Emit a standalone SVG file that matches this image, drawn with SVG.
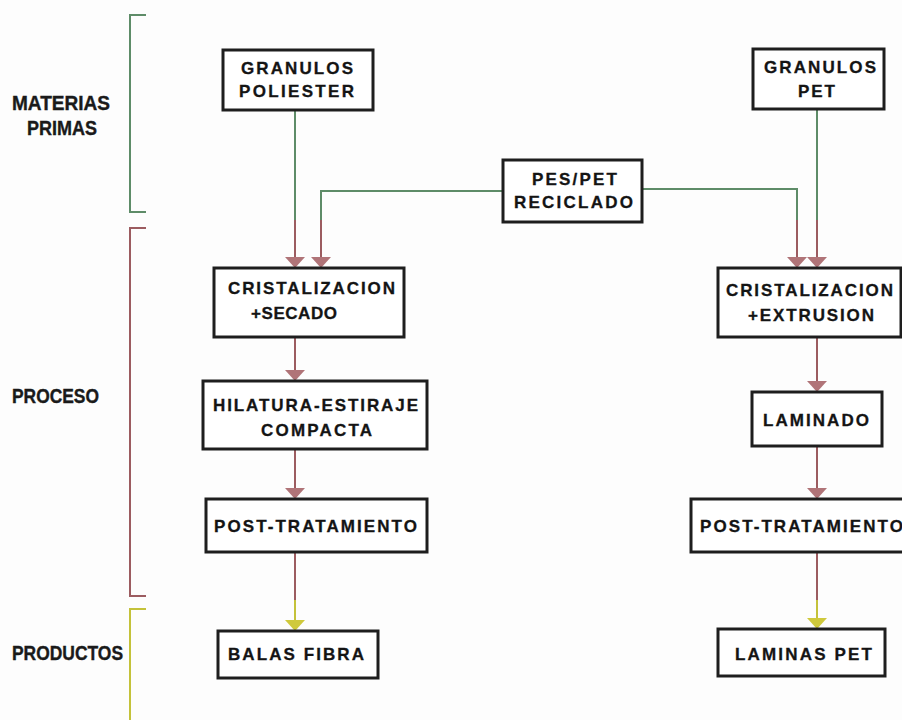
<svg xmlns="http://www.w3.org/2000/svg" width="902" height="720" viewBox="0 0 902 720">
  <style>
    .box { fill: #ffffff; stroke: #1e1e1e; stroke-width: 3; }
    .nt { font-family: "Liberation Sans", Arial, sans-serif; font-weight: bold; font-size: 17px; fill: #141414; stroke: #141414; stroke-width: 0.3; }
    .lbl { font-family: "Liberation Sans", Arial, sans-serif; font-weight: bold; font-size: 21px; fill: #1a1a1a; stroke: #1a1a1a; stroke-width: 0.4; }
    .g { stroke: #5e8c68; stroke-width: 2; fill: none; }
    .b { stroke: #9c5c60; stroke-width: 2; fill: none; }
    .y { stroke: #c4c23a; stroke-width: 2; fill: none; }
  </style>
  <defs>
    <marker id="ab" viewBox="0 0 20 11" refX="10" refY="11" markerWidth="20" markerHeight="11" markerUnits="userSpaceOnUse">
      <path d="M0,0 L20,0 L10,11 Z" fill="#b07478"/>
    </marker>
    <marker id="ay" viewBox="0 0 20 11" refX="10" refY="11" markerWidth="20" markerHeight="11" markerUnits="userSpaceOnUse">
      <path d="M0,0 L20,0 L10,11 Z" fill="#cfc93c"/>
    </marker>
  </defs>
  <rect width="902" height="720" fill="#fdfdfd"/>

  <!-- stage brackets and stage labels -->
  <g id="stages">
    <path class="g" d="M146,15 H130 V212 H146"/>
    <path class="b" d="M146,228 H130 V596 H146"/>
    <path class="y" d="M146,609 H130 V720"/>
    <text class="lbl" x="12" y="110" textLength="98" lengthAdjust="spacingAndGlyphs">MATERIAS</text>
    <text class="lbl" x="27" y="135" textLength="70" lengthAdjust="spacingAndGlyphs">PRIMAS</text>
    <text class="lbl" x="12" y="403" textLength="87" lengthAdjust="spacingAndGlyphs">PROCESO</text>
    <text class="lbl" x="12" y="660" textLength="111" lengthAdjust="spacingAndGlyphs">PRODUCTOS</text>
  </g>

  <!-- connectors -->
  <g id="connectors">
    <!-- raw materials (green part) -->
    <path class="g" d="M295,110 V220"/>
    <path class="g" d="M503,191 H321 V220"/>
    <path class="g" d="M642,189 H797 V220"/>
    <path class="g" d="M817,109 V220"/>
    <!-- into crystallisation -->
    <path class="b" d="M295,220 V268" marker-end="url(#ab)"/>
    <path class="b" d="M321,220 V268" marker-end="url(#ab)"/>
    <path class="b" d="M797,220 V268" marker-end="url(#ab)"/>
    <path class="b" d="M817,220 V268" marker-end="url(#ab)"/>
    <!-- left process chain -->
    <path class="b" d="M295,337 V381" marker-end="url(#ab)"/>
    <path class="b" d="M295,449 V499" marker-end="url(#ab)"/>
    <path class="b" d="M295,552 V600"/>
    <path class="y" d="M295,600 V631" marker-end="url(#ay)"/>
    <!-- right process chain -->
    <path class="b" d="M817,337 V392" marker-end="url(#ab)"/>
    <path class="b" d="M817,446 V499" marker-end="url(#ab)"/>
    <path class="b" d="M817,552 V600"/>
    <path class="y" d="M817,600 V629" marker-end="url(#ay)"/>
  </g>

  <!-- nodes -->
  <g id="granulos-poliester">
    <rect class="box" x="223" y="50" width="150" height="60"/>
    <text class="nt" x="241" y="74" textLength="112">GRANULOS</text>
    <text class="nt" x="239" y="97" textLength="115">POLIESTER</text>
  </g>
  <g id="granulos-pet">
    <rect class="box" x="753" y="49" width="131" height="60"/>
    <text class="nt" x="764" y="73" textLength="112">GRANULOS</text>
    <text class="nt" x="798" y="97" textLength="37">PET</text>
  </g>
  <g id="pes-pet-reciclado">
    <rect class="box" x="503" y="160" width="139" height="62"/>
    <text class="nt" x="532" y="185" textLength="85">PES/PET</text>
    <text class="nt" x="514" y="208" textLength="119">RECICLADO</text>
  </g>
  <g id="cristalizacion-secado">
    <rect class="box" x="214" y="268" width="190" height="69"/>
    <text class="nt" x="228" y="294" textLength="167">CRISTALIZACION</text>
    <text class="nt" x="251" y="319" textLength="86">+SECADO</text>
  </g>
  <g id="cristalizacion-extrusion">
    <rect class="box" x="718" y="268" width="183" height="69"/>
    <text class="nt" x="726" y="296" textLength="167">CRISTALIZACION</text>
    <text class="nt" x="748" y="321" textLength="126">+EXTRUSION</text>
  </g>
  <g id="hilatura">
    <rect class="box" x="203" y="381" width="224" height="68"/>
    <text class="nt" x="213" y="411" textLength="205">HILATURA-ESTIRAJE</text>
    <text class="nt" x="261" y="436" textLength="111">COMPACTA</text>
  </g>
  <g id="laminado">
    <rect class="box" x="752" y="392" width="130" height="54"/>
    <text class="nt" x="763" y="426" textLength="106">LAMINADO</text>
  </g>
  <g id="post-tratamiento-fibra">
    <rect class="box" x="206" y="499" width="221" height="53"/>
    <text class="nt" x="214" y="532" textLength="203">POST-TRATAMIENTO</text>
  </g>
  <g id="post-tratamiento-lamina">
    <rect class="box" x="691" y="499" width="215" height="53"/>
    <text class="nt" x="700" y="532" textLength="203">POST-TRATAMIENTO</text>
  </g>
  <g id="balas-fibra">
    <rect class="box" x="218" y="631" width="160" height="47"/>
    <text class="nt" x="228" y="660" textLength="136">BALAS FIBRA</text>
  </g>
  <g id="laminas-pet">
    <rect class="box" x="718" y="629" width="167" height="47"/>
    <text class="nt" x="735" y="660" textLength="137">LAMINAS PET</text>
  </g>
</svg>
